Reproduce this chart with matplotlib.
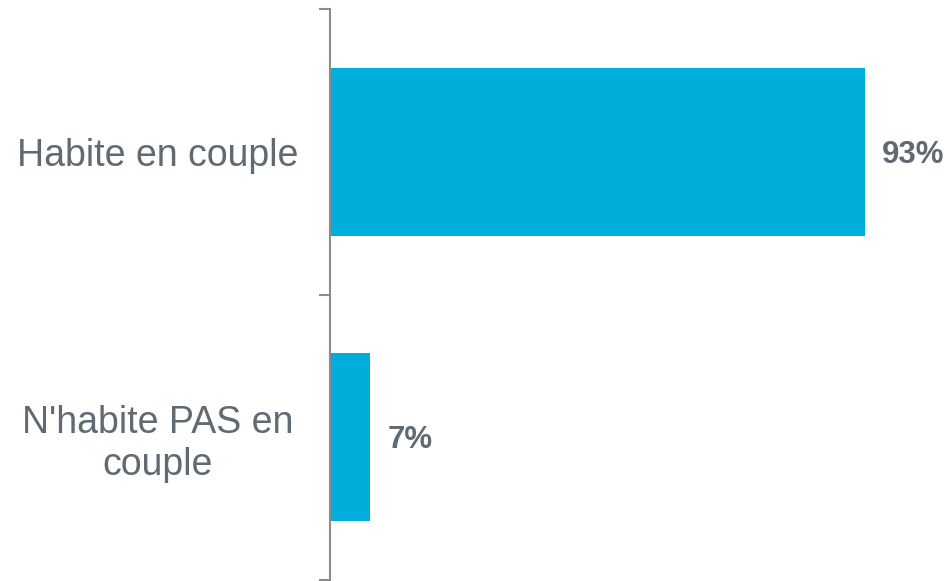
import numpy as np
import matplotlib.pyplot as plt

plt.rcParams['font.family'] = ['Liberation Sans', 'DejaVu Sans']

# data
categories = ["Habite en couple", "N'habite PAS en\ncouple"]
values = [93, 7]
labels = ["93%", "7%"]

bar_color = "#00AEDB"
text_color = "#5F6A72"
axis_color = "#8C8C8C"

fig = plt.figure(figsize=(9.52, 5.81), dpi=100)
ax = fig.add_axes([330 / 952, 1 - 580 / 581, 575.3 / 952, 571 / 581])

y = np.arange(len(categories))
ax.barh(y, values, height=0.59, color=bar_color)

for yi, v, lab in zip(y, values, labels):
    ax.text(v + 3, yi + 0.01, lab, va="center", ha="left", fontsize=22.5,
            fontweight="bold", color=text_color)

ax.set_xlim(0, 100)
ax.set_ylim(1.5, -0.5)

# boundary ticks on the axis, labels centred between them
ax.set_yticks([-0.5, 0.5, 1.5])
ax.set_yticklabels([])
ax.set_yticks(y, minor=True)
ax.set_yticklabels(categories, minor=True, fontsize=27, color=text_color,
                   ha="center", linespacing=1.2)
ax.tick_params(axis="y", which="major", length=8, width=1.5, color=axis_color)
ax.tick_params(axis="y", which="minor", length=0, pad=124)

ax.set_xticks([])
for side in ["top", "right", "bottom"]:
    ax.spines[side].set_visible(False)
ax.spines["left"].set_color(axis_color)
ax.spines["left"].set_linewidth(1.5)

fig.savefig("out.png", dpi=100)
